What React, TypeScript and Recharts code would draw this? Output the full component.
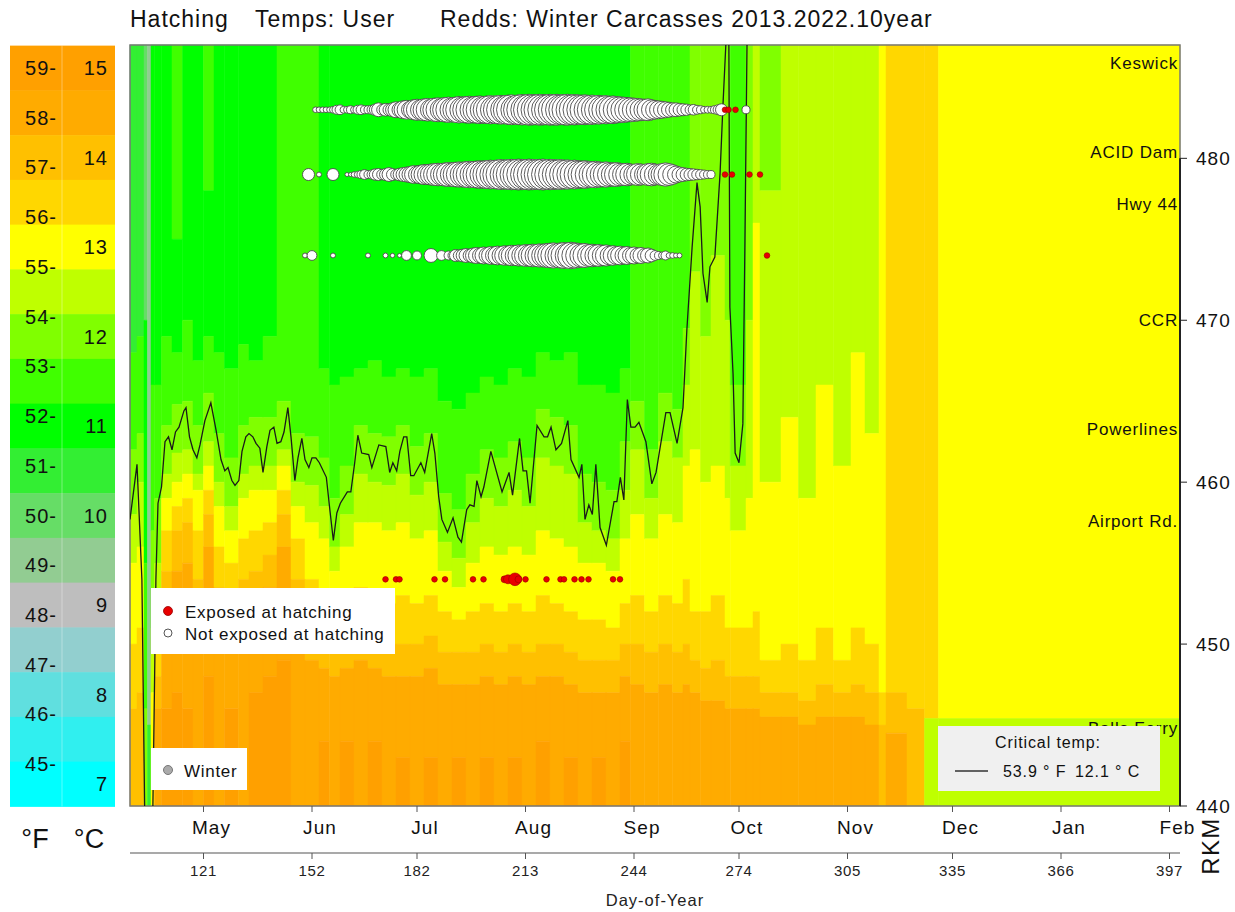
import React from "react";
import {
  ComposedChart,
  XAxis,
  YAxis,
  ZAxis,
  Line,
  Scatter,
  ReferenceArea,
  ReferenceLine,
} from "recharts";

const FONT = "'Liberation Sans', Arial, Helvetica, sans-serif";

// temperature classes (deg C, centre of a 0.5 C band) and their colours
const bandTemps = [15, 14.5, 14, 13.5, 13, 12.5, 12, 11.5, 11, 10.5, 10, 9.5, 9, 8.5, 8, 7.5, 7];
const bandColors = [
  "#ffa000", "#ffab00", "#ffc000", "#ffd700", "#ffff00", "#bfff00", "#80ff00", "#40ff00",
  "#00ff00", "#33ee33", "#66dd66", "#92cc92", "#bebebe", "#92cfcf", "#60dfdf", "#30efef", "#00ffff",
];
const fahrTicks = [59, 58, 57, 56, 55, 54, 53, 52, 51, 50, 49, 48, 47, 46, 45];
const celsTicks = [15, 14, 13, 12, 11, 10, 9, 8, 7];

const dayTicks = [121, 152, 182, 213, 244, 274, 305, 335, 366, 397];
const monthNames = ["May", "Jun", "Jul", "Aug", "Sep", "Oct", "Nov", "Dec", "Jan", "Feb"];
const rkmTicks = [440, 450, 460, 470, 480];

const placeNames = ["Keswick", "ACID Dam", "Hwy 44", "CCR", "Powerlines", "Airport Rd.", "Balls Ferry"];
const placeRkm = [485.9, 480.4, 477.2, 470.0, 463.3, 457.6, 444.8];

// temperature field: [fromDay, toDay, topTemp, rkmBreak, temp, rkmBreak, temp, ...] top (487) to bottom (440)
const heatCols: number[][] = [
  [100, 102, 10.5, 468, 11.5, 462, 12, 458, 12.5, 455, 13, 450, 13.5, 446, 14],
  [102, 104, 10.5, 469, 11.5, 463, 12, 460, 12.5, 456, 13, 451, 13.5, 447, 14],
  [104, 105, 10, 470, 11, 455, 11.5, 446, 12],
  [105, 106, 9.5, 445, 10.5],
  [106, 107, 11, 466, 11.5, 457, 12, 451, 12.5, 447, 13],
  [107, 109, 11, 466, 11.5, 459, 12, 455, 12.5, 453, 13, 451, 13.5, 448, 14, 446, 14.5],
  [109, 112, 11, 469, 11.5, 463.5, 12, 460.5, 12.5, 459, 13, 457, 13.5, 454.5, 14, 452, 14.5, 446, 15],
  [112, 115, 11.5, 475, 11, 468, 11.5, 464.8, 12, 461.8, 12.5, 460, 13, 458.5, 13.5, 457, 14, 454.5, 14.5, 447, 15],
  [115, 118, 11, 470, 11.5, 465, 12, 462, 12.5, 460.5, 13, 459, 13.5, 457.5, 14, 455, 14.5, 446, 15],
  [118, 121, 11, 467.5, 11.5, 463.5, 12, 460.5, 12.5, 459.5, 13, 457, 13.5, 454, 14, 452, 14.5],
  [121, 124, 11.5, 478, 11, 469, 11.5, 465.5, 12, 462.5, 12.5, 461, 13, 459.5, 13.5, 458, 14, 456, 14.5, 448, 15],
  [124, 127, 11, 468, 11.5, 463, 12, 460, 12.5, 458.5, 13, 456, 13.5, 453.5, 14, 451.5, 14.5],
  [127, 131, 11, 467, 11.5, 461.5, 12, 458.5, 12.5, 457, 13, 455, 13.5, 452.5, 14, 450.5, 14.5, 446, 15],
  [131, 134, 11, 468.5, 11.5, 463.5, 12, 460.5, 12.5, 459, 13, 456.5, 13.5, 454, 14, 452, 14.5],
  [134, 138, 11, 467.5, 11.5, 464, 12, 461, 12.5, 459.5, 13, 457, 13.5, 454.5, 14, 452, 14.5, 447, 15],
  [138, 142, 11, 469, 11.5, 464, 12, 461, 12.5, 459.5, 13, 457.5, 13.5, 455.5, 14, 453.5, 14.5, 448, 15],
  [142, 146, 11.5, 465, 12, 462, 12.5, 461, 13, 459.5, 13.5, 458, 14, 456, 14.5, 449, 15],
  [146, 150, 11.5, 463, 12, 460, 12.5, 458.5, 13, 456.5, 13.5, 454, 14, 452, 14.5],
  [150, 154, 11.5, 462.8, 12, 459.8, 12.5, 457.5, 13, 454, 13.5, 451, 14, 449, 14.5],
  [154, 157, 11, 467, 11.5, 461.5, 12, 458.5, 12.5, 456.5, 13, 453, 13.5, 450.5, 14, 448.5, 14.5, 444, 15],
  [157, 160, 11, 466, 11.5, 459, 12, 456, 12.5, 454.5, 13, 452, 13.5, 450, 14, 448, 14.5],
  [160, 164, 11, 466.5, 11.5, 461, 12, 458, 12.5, 456, 13, 453, 13.5, 450.5, 14, 448.5, 14.5, 444, 15],
  [164, 168, 11, 467, 11.5, 463.5, 12, 460.5, 12.5, 457.5, 13, 453.5, 13.5, 451, 14, 449, 14.5],
  [168, 172, 11, 467.5, 11.5, 463, 12, 460, 12.5, 457.5, 13, 453, 13.5, 450.5, 14, 448.5, 14.5, 444, 15],
  [172, 176, 11, 466.5, 11.5, 462.8, 12, 459.8, 12.5, 457, 13, 452.5, 13.5, 450, 14, 448, 14.5],
  [176, 180, 11, 467, 11.5, 463.5, 12, 460.5, 12.5, 457.5, 13, 453, 13.5, 450, 14, 448, 14.5, 443, 15],
  [180, 184, 11, 466.5, 11.5, 462.2, 12, 459.2, 12.5, 456.5, 13, 452.5, 13.5, 450, 14, 448, 14.5],
  [184, 188, 11, 467, 11.5, 463, 12, 460, 12.5, 457, 13, 453, 13.5, 450.5, 14, 448.5, 14.5, 443, 15],
  [188, 192, 11, 465, 11.5, 459.3, 12, 456.3, 12.5, 454.5, 13, 452, 13.5, 449.5, 14, 447.5, 14.5],
  [192, 196, 11, 464.5, 11.5, 458.3, 12, 455.3, 12.5, 453.5, 13, 451.5, 13.5, 449.5, 14, 447.5, 14.5, 443, 15],
  [196, 200, 11, 465.5, 11.5, 460.5, 12, 457.5, 12.5, 455, 13, 452, 13.5, 449.5, 14, 447.5, 14.5],
  [200, 204, 11, 466.5, 11.5, 462, 12, 459, 12.5, 456, 13, 452.5, 13.5, 450, 14, 448, 14.5, 443, 15],
  [204, 208, 11, 466, 11.5, 461.5, 12, 458.5, 12.5, 455.5, 13, 452, 13.5, 449.5, 14, 447.5, 14.5],
  [208, 212, 11, 467, 11.5, 462.5, 12, 459.5, 12.5, 456, 13, 452.5, 13.5, 450, 14, 448, 14.5, 443, 15],
  [212, 216, 11, 466.5, 11.5, 461.5, 12, 458.5, 12.5, 455.5, 13, 452, 13.5, 449.5, 14, 447.5, 14.5],
  [216, 220, 11, 468, 11.5, 464.5, 12, 461.5, 12.5, 457, 13, 453, 13.5, 450, 14, 448, 14.5, 444, 15],
  [220, 224, 11, 467.5, 11.5, 464, 12, 461, 12.5, 456.5, 13, 452.5, 13.5, 450, 14, 448, 14.5],
  [224, 228, 11, 468, 11.5, 463.5, 12, 460.5, 12.5, 456, 13, 452, 13.5, 449.5, 14, 447.5, 14.5, 443, 15],
  [228, 232, 11, 466, 11.5, 460.5, 12, 457.5, 12.5, 455, 13, 451.5, 13.5, 449, 14, 447, 14.5],
  [232, 236, 11, 466, 11.5, 460, 12, 457, 12.5, 455, 13, 451.5, 13.5, 449, 14, 447, 14.5, 443, 15],
  [236, 240, 11, 465.5, 11.5, 459.5, 12, 456.5, 12.5, 454.5, 13, 451, 13.5, 449, 14, 447, 14.5],
  [240, 243, 11, 467, 11.5, 462.5, 12, 459.5, 12.5, 456.5, 13, 452.5, 13.5, 450, 14, 448, 14.5, 444, 15],
  [243, 247, 11.5, 465, 12, 462, 12.5, 458, 13, 453, 13.5, 450, 14, 447.5, 14.5],
  [247, 251, 11.5, 462, 12, 459, 12.5, 456.5, 13, 452, 13.5, 449.5, 14, 447, 14.5],
  [251, 255, 11.5, 465.5, 12, 462.5, 12.5, 458, 13, 453, 13.5, 450, 14, 447.5, 14.5],
  [255, 258, 11.5, 464.5, 12, 461.5, 12.5, 457.5, 13, 452.5, 13.5, 449.5, 14, 447, 14.5],
  [258, 260, 11.5, 469.5, 12, 466, 12.5, 461, 13, 454, 13.5, 450, 14, 447.5, 14.5],
  [260, 263, 12, 473, 12.5, 462, 13, 452, 13.5, 449, 14, 447, 14.5],
  [263, 266, 12, 469, 12.5, 460, 13, 452, 13.5, 448.5, 14, 446.5, 14.5],
  [266, 270, 12, 474, 12.5, 461, 13, 453, 13.5, 449, 14, 446.5, 14.5],
  [270, 271.5, 12, 470, 12.5, 459, 13, 451, 13.5, 448, 14, 446, 14.5],
  [271.5, 276, 11.5, 466, 12, 461, 12.5, 457, 13, 451, 13.5, 448, 14, 446, 14.5],
  [276, 278, 12, 470, 12.5, 459, 13, 451, 13.5, 448, 14, 446, 14.5],
  [278, 280, 12.5, 476, 13, 452, 13.5, 448, 14, 446, 14.5],
  [280, 286, 12, 478, 12.5, 460, 13, 449, 13.5, 447, 14, 445.5, 14.5],
  [286, 291, 12.5, 464, 13, 450, 13.5, 447, 14, 445.5, 14.5],
  [291, 296, 12.5, 459, 13, 449, 13.5, 446.5, 14, 445, 14.5],
  [296, 301, 12.5, 466, 13, 451, 13.5, 447.5, 14, 445.5, 14.5],
  [301, 306, 12.5, 461, 13, 449, 13.5, 447, 14, 445.5, 14.5],
  [306, 310, 12.5, 468, 13, 451, 13.5, 447.5, 14, 445.5, 14.5],
  [310, 314, 12.5, 463, 13, 450, 13.5, 447, 14, 445, 14.5],
  [314, 316, 13, 447, 13.5, 445, 14],
  [316, 322, 13.5, 447, 14, 444.5, 14.5],
  [322, 327, 13.5, 446, 14],
  [327, 331, 13.5, 445.4, 12.5],
  [331, 400, 13, 445.4, 12.5],
];

// critical-temperature location (day, RKM)
const critLine: number[][] = [
  [100, 457.7], [102, 461.1], [103.4, 454], [104.4, 436], [106.3, 436], [107.4, 454], [108, 458.7],
  [109, 459.7], [110, 462.5], [111, 462.8], [112, 462], [113, 463.1], [114, 463.4], [115.4, 464.4],
  [116, 464.6], [117, 462.8], [118, 462], [119.1, 461.5], [120, 462.3], [121.4, 463.8], [123.1, 464.9],
  [124.6, 463.2], [126, 461.4], [127.1, 460.7], [128, 460.9], [129.1, 460.1], [130, 459.8], [131.1, 460.1],
  [132, 461.9], [133.1, 462.8], [134, 463], [135.1, 462.8], [136, 462.4], [137.1, 462.1], [138, 460.6],
  [139.1, 462.2], [140, 463.2], [141.1, 463.4], [142, 462.4], [143.1, 462.5], [144, 463.1], [145.1, 464.6],
  [146, 462.8], [147.1, 460.1], [148, 461.5], [149.1, 462.7], [150, 461.4], [151.1, 460.9], [152, 461.5],
  [153.1, 461.5], [154.1, 461.2], [156.1, 460.3], [157.1, 458.3], [158.1, 456.4], [159.1, 458.1],
  [160.1, 458.7], [162.1, 459.4], [163.1, 459.4], [164.2, 461.2], [165.1, 462.9], [166.2, 461.8],
  [168.2, 461.7], [169.1, 460.9], [171.1, 462.3], [173.1, 462.2], [174.2, 460.6], [175.1, 461.2],
  [176.2, 460.7], [177.1, 461.9], [178.2, 462.8], [179.1, 462.8], [180.2, 460.4], [181.1, 460.4],
  [183.1, 461.2], [184.2, 460.6], [186.2, 463], [187.1, 461.8], [188.2, 459.1], [189.1, 457.7],
  [190.7, 456.9], [192.3, 457.8], [193.7, 456.6], [194.7, 456.3], [196.2, 458.3], [197.1, 458.6],
  [198.3, 458.5], [199.1, 460.1], [200.3, 459.1], [201.1, 459.7], [203.1, 461.9], [206.3, 459.4],
  [208.3, 460.6], [209.3, 459.2], [211.3, 462.7], [212.3, 460.7], [213.3, 460.7], [214.3, 458.7],
  [216.3, 463.5], [218.3, 462.8], [219.3, 462.8], [220.3, 463.4], [221.7, 462], [223.3, 462.4],
  [225.1, 463.8], [226, 461.4], [228.3, 460.3], [229.1, 461.1], [230, 457.7], [231.1, 458.6],
  [232.1, 458], [233.1, 461.1], [234.3, 457.2], [236.1, 456.1], [238.3, 458.8], [239.1, 458.8],
  [240.1, 460.3], [241.1, 458.9], [242.1, 465.1], [243.1, 463.4], [244.3, 463.4], [245.4, 463.7],
  [247.4, 462.5], [249.1, 459.9], [250.3, 460.6], [253.1, 464.3], [254.3, 464.3], [256.3, 462.4],
  [258, 464.6], [259.1, 469.4], [260.6, 474.5], [262, 478.5], [262.9, 477], [263.7, 472.9],
  [264.9, 471.1], [265.7, 473.3], [267.1, 473.9], [268.6, 479.1], [269.4, 483.2], [270.3, 487.3],
  [270.6, 492], [271.1, 487.3], [271.4, 470.8], [272.3, 466.7], [272.9, 461.8], [274, 461.2],
  [275.1, 463.6], [275.7, 474.9], [276.3, 487.3], [276.6, 492],
];

// redd counts by day at each reach
const row1Rkm = 483;
const row1Start = 153;
const row1Counts = [
  2, 2, 2, 2, 2,
  3, 5, 6, 3, 3, 4, 3, 5, 6, 4, 4, 5,
  8, 12, 7, 10, 9, 12, 16, 14, 20, 22,
  18, 25, 28, 25, 30, 32, 28, 34, 36, 32,
  38, 40, 36, 40, 44, 40, 44, 46, 42, 46,
  48, 44, 48, 50, 46, 50, 52, 48, 54, 56,
  50, 56, 58, 54, 60, 58, 56, 60, 58, 56,
  60, 58, 60, 56, 58, 60, 56, 58, 56, 54,
  56, 52, 54, 50, 52, 48, 50, 46, 48, 44,
  42, 40, 38, 36, 34, 32, 30, 28, 30, 25,
  22, 20, 18, 16, 14, 12, 12, 10, 9, 8,
  6, 7, 5, 4, 3, 3, 3, 4, 6, 9,
];
const row1Late = [[276, 4]];
const row1Red = [270, 271, 273];

const row2Rkm = 479;
const row2Early = [[151, 9], [154, 1.5], [158, 9]];
const row2Start = 162;
const row2Counts = [
  1, 1, 2, 2.5, 4, 6, 4, 5,
  8, 9, 7, 9, 12, 9, 7, 10, 12, 14,
  16, 20, 18, 22, 25, 25, 28, 30, 32, 30,
  34, 36, 34, 38, 40, 38, 42, 44, 42, 46,
  48, 46, 50, 52, 50, 54, 56, 52, 56, 58,
  56, 60, 58, 56, 60, 58, 56, 58, 60, 56,
  58, 56, 54, 56, 52, 54, 50, 52, 48, 46,
  48, 44, 42, 44, 40, 38, 40, 36, 34, 36,
  32, 30, 32, 28, 26, 30, 28, 25, 30, 32,
  28, 26, 30, 34, 30, 24, 18, 14, 12, 10,
  9, 8, 7, 6, 5, 4, 4,
];
const row2Red = [270, 272, 277, 280];

const row3Rkm = 474;
const row3Early = [
  [150, 1.5], [152, 6], [158, 1.5], [168, 1.5], [173, 1.5], [175, 1.2], [177, 1],
  [179, 6], [182, 5], [186, 12], [189, 6], [191, 5],
];
const row3Start = 192;
const row3Counts = [
  4, 9, 8, 10, 12, 10, 14, 16,
  14, 18, 16, 20, 18, 22, 20, 24, 22, 26,
  24, 28, 26, 30, 28, 32, 30, 34, 32, 36,
  38, 40, 36, 40, 42, 38, 44, 40, 38, 34,
  36, 30, 32, 28, 30, 26, 28, 22, 24, 20,
  22, 18, 20, 16, 18, 14, 16, 12, 14, 10,
  6, 4, 3, 5, 2, 2, 1.5, 1.5,
];
const row3Red = [282];

const row4Rkm = 454;
const row4Red = [
  [173, 2], [176, 2], [177, 2], [187, 2], [190, 2], [198, 2], [201, 2], [207, 3], [208, 5], [210, 10],
  [211, 3], [213, 2], [219, 2], [223, 2], [224, 2], [227, 2], [229, 2], [231, 2], [238, 2], [240, 2],
];

const colorOf = (t: number) => bandColors[bandTemps.indexOf(t)];

const heatRects = heatCols.flatMap(([d0, d1, ...z]) => {
  const out: { d0: number; d1: number; top: number; bottom: number; t: number }[] = [];
  let top = 487;
  for (let i = 0; i < z.length; i += 2) {
    const bottom = i + 1 < z.length ? z[i + 1] : 440;
    out.push({ d0, d1, top, bottom, t: z[i] });
    top = bottom;
  }
  return out;
});

const critData = critLine.map(([day, rkm]) => ({ day, rkm }));

const whiteData = [
  ...row1Counts.map((n, i) => ({ day: row1Start + i, rkm: row1Rkm, n })),
  ...row1Late.map(([day, n]) => ({ day, rkm: row1Rkm, n })),
  ...row2Early.map(([day, n]) => ({ day, rkm: row2Rkm, n })),
  ...row2Counts.map((n, i) => ({ day: row2Start + i, rkm: row2Rkm, n })),
  ...row3Early.map(([day, n]) => ({ day, rkm: row3Rkm, n })),
  ...row3Counts.map((n, i) => ({ day: row3Start + i, rkm: row3Rkm, n })),
];
const redData = [
  ...row1Red.map((day) => ({ day, rkm: row1Rkm, n: 2 })),
  ...row2Red.map((day) => ({ day, rkm: row2Rkm, n: 2 })),
  ...row3Red.map((day) => ({ day, rkm: row3Rkm, n: 2 })),
  ...row4Red.map(([day, n]) => ({ day, rkm: row4Rkm, n })),
];

const legY = (c: number) => 68 + (15 - c) * 89.5;

export default function App() {
  return (
    <div style={{ position: "absolute", left: 0, top: 0, width: 1235, height: 912, background: "#fff" }}>
      <ComposedChart width={1235} height={912} margin={{ top: 45, right: 0, bottom: 0, left: 130 }}>
        <XAxis
          xAxisId="a"
          type="number"
          dataKey="day"
          domain={[100, 400]}
          allowDataOverflow
          ticks={dayTicks}
          interval={0}
          height={47}
          axisLine={false}
          tickSize={6}
          tickLine={{ stroke: "#555" }}
          tick={({ x, y, payload }: any) => (
            <text x={x + 8} y={y + 20} textAnchor="middle" fontSize={19} fill="#111" fontFamily={FONT} letterSpacing={1.1}>
              {monthNames[dayTicks.indexOf(payload.value)]}
            </text>
          )}
        />
        <XAxis
          xAxisId="b"
          type="number"
          dataKey="day"
          domain={[100, 400]}
          allowDataOverflow
          ticks={dayTicks}
          interval={0}
          height={59}
          axisLine={{ stroke: "#555", strokeWidth: 1.2 }}
          tickSize={6}
          tickLine={{ stroke: "#555" }}
          tick={({ x, y, payload }: any) => (
            <text x={x} y={y + 15} textAnchor="middle" fontSize={15} fill="#222" fontFamily={FONT} letterSpacing={0.7}>
              {payload.value}
            </text>
          )}
        />
        <YAxis
          yAxisId="r"
          orientation="right"
          type="number"
          dataKey="rkm"
          domain={[440, 487]}
          allowDataOverflow
          ticks={rkmTicks}
          interval={0}
          width={55}
          axisLine={false}
          tickSize={7}
          tickLine={{ stroke: "#222" }}
          tick={({ x, y, payload }: any) => (
            <text x={x + 7} y={y + 7} textAnchor="start" fontSize={19} fill="#111" fontFamily={FONT} letterSpacing={1}>
              {payload.value}
            </text>
          )}
        />
        <ZAxis zAxisId="z" type="number" dataKey="n" domain={[0, 60]} range={[0, 755]} />

        {heatRects.map((c, i) => (
          <ReferenceArea
            key={`h${i}`}
            xAxisId="b"
            yAxisId="r"
            x1={c.d0}
            x2={c.d1}
            y1={c.bottom}
            y2={c.top}
            fill={colorOf(c.t)}
            fillOpacity={1}
            stroke={colorOf(c.t)}
            strokeWidth={0.5}
            ifOverflow="visible"
          />
        ))}
        <ReferenceArea
          xAxisId="b"
          yAxisId="r"
          x1={100}
          x2={400}
          y1={440}
          y2={487}
          fill="none"
          stroke="#777"
          strokeWidth={1.5}
          ifOverflow="visible"
        />
        <ReferenceLine
          xAxisId="b"
          yAxisId="r"
          segment={[{ x: 400, y: 440 }, { x: 400, y: 480 }]}
          stroke="#222"
          strokeWidth={2}
          ifOverflow="visible"
        />
        {placeNames.map((name, i) => (
          <ReferenceLine
            key={name}
            xAxisId="b"
            yAxisId="r"
            y={placeRkm[i]}
            stroke="none"
            ifOverflow="visible"
            label={{ value: name, position: "insideRight", offset: 2, fontSize: 17, fill: "#111", fontFamily: FONT, letterSpacing: 0.8 }}
          />
        ))}

        <Line
          data={critData}
          xAxisId="b"
          yAxisId="r"
          dataKey="rkm"
          type="linear"
          stroke="#1a1a1a"
          strokeWidth={1.3}
          dot={false}
          activeDot={false}
          isAnimationActive={false}
        />
        <Scatter
          data={whiteData}
          xAxisId="b"
          yAxisId="r"
          zAxisId="z"
          dataKey="rkm"
          fill="#ffffff"
          stroke="#4a4a4a"
          strokeWidth={0.9}
          isAnimationActive={false}
        />
        <Scatter
          data={redData}
          xAxisId="b"
          yAxisId="r"
          zAxisId="z"
          dataKey="rkm"
          fill="#e80000"
          stroke="#990000"
          strokeWidth={0.6}
          isAnimationActive={false}
        />
      </ComposedChart>

      <svg
        width={1235}
        height={912}
        style={{ position: "absolute", left: 0, top: 0, pointerEvents: "none" }}
        fontFamily={FONT}
      >
        {/* title */}
        <text x={130} y={27} fontSize={23} fill="#111" letterSpacing={1}>Hatching</text>
        <text x={255} y={27} fontSize={23} fill="#111" letterSpacing={1}>Temps: User</text>
        <text x={440} y={27} fontSize={23} fill="#111" letterSpacing={1}>Redds: Winter Carcasses 2013.2022.10year</text>

        {/* colour scale */}
        {bandTemps.map((t, i) => (
          <rect key={t} x={10} y={legY(t + 0.25)} width={105} height={89.5 / 2 + 0.5} fill={bandColors[i]} />
        ))}
        <line x1={62} y1={legY(15.25)} x2={62} y2={legY(6.75)} stroke="#fff" strokeOpacity={0.35} strokeWidth={1} />
        {fahrTicks.map((f) => (
          <text key={f} x={57} y={legY((f - 32) / 1.8) + 7} textAnchor="end" fontSize={20} fill="#111" letterSpacing={1}>
            {`${f}-`}
          </text>
        ))}
        {celsTicks.map((c) => (
          <text key={c} x={108} y={legY(c) + 7} textAnchor="end" fontSize={20} fill="#111" letterSpacing={1}>
            {c}
          </text>
        ))}
        <text x={35} y={848} textAnchor="middle" fontSize={27} fill="#111">°F</text>
        <text x={89} y={848} textAnchor="middle" fontSize={27} fill="#111">°C</text>

        {/* legends */}
        <rect x={151} y={588} width={244} height={66} fill="#fff" />
        <circle cx={168} cy={611} r={4.5} fill="#e80000" stroke="#990000" strokeWidth={0.8} />
        <circle cx={168} cy={633} r={4} fill="#fff" stroke="#555" strokeWidth={1} />
        <text x={185} y={618} fontSize={17} fill="#111" letterSpacing={0.7}>Exposed at hatching</text>
        <text x={185} y={640} fontSize={17} fill="#111" letterSpacing={0.7}>Not exposed at hatching</text>

        <rect x={151} y={748} width={96} height={42} fill="#fff" />
        <circle cx={168} cy={770} r={4.5} fill="#aaaaaa" stroke="#777" strokeWidth={1} />
        <text x={184} y={777} fontSize={17} fill="#111" letterSpacing={0.7}>Winter</text>

        <rect x={938} y={726} width={222} height={65} fill="#f0f0f0" />
        <text x={1048} y={748} textAnchor="middle" fontSize={16} fill="#111" letterSpacing={0.9}>Critical temp:</text>
        <line x1={955} y1={771} x2={988} y2={771} stroke="#333" strokeWidth={1.3} />
        <text x={1003} y={777} fontSize={16} fill="#111" letterSpacing={0.9}>53.9 ° F</text>
        <text x={1075} y={777} fontSize={16} fill="#111" letterSpacing={0.9}>12.1 ° C</text>

        {/* axis titles */}
        <text x={655} y={906} textAnchor="middle" fontSize={16.5} fill="#222" letterSpacing={1}>Day-of-Year</text>
        <text x={1219} y={846} textAnchor="middle" fontSize={24} fill="#111" letterSpacing={1.3} transform="rotate(-90 1219 846)">
          RKM
        </text>
      </svg>
    </div>
  );
}
